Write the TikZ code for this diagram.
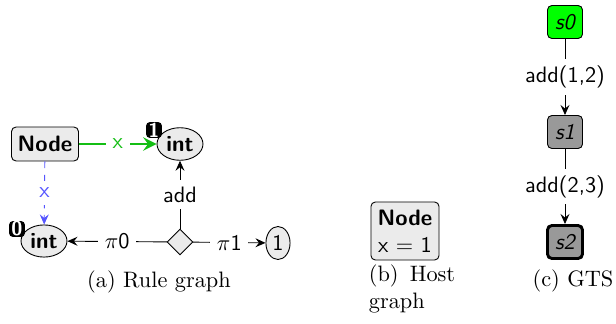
\documentclass[tikz,border=0pt]{standalone}
\usepackage{amsmath}
\usepackage{tikz}
\usetikzlibrary{shapes.geometric,arrows.meta}

\definecolor{edgegreen}{RGB}{20,190,20}
\definecolor{edgeblue}{RGB}{85,85,255}
\definecolor{boxgray}{RGB}{235,235,235}
\definecolor{stategray}{RGB}{153,153,153}
\definecolor{stategreen}{RGB}{0,255,0}

\tikzset{
  typebox/.style={draw, rounded corners=2pt, fill=boxgray, font=\sffamily\bfseries, inner sep=2pt},
  valnode/.style={draw, ellipse, fill=boxgray, font=\sffamily, inner sep=0pt},
  badge/.style={fill=black, text=white, rounded corners=1.5pt, font=\sffamily\bfseries\small, inner sep=0pt, minimum size=7pt},
  opnode/.style={draw, diamond, fill=boxgray, inner sep=0pt, minimum size=11.5pt},
  state/.style={draw, rounded corners=2pt, font=\sffamily\itshape, inner sep=0pt, minimum width=15.7pt, minimum height=14.8pt},
  elabel/.style={fill=white, font=\sffamily, inner sep=3pt},
  caption/.style={font=\rmfamily},
  tip/.style={-{Stealth[length=4.5pt, width=4pt, inset=1.6pt]}}
}

\begin{document}
\begin{tikzpicture}[x=0.448pt,y=-0.448pt]

\useasboundingbox (0,0) rectangle (616,324);

\node[typebox, minimum width=30pt, minimum height=15.2pt] (rnode) at (45,144) {Node};
\node[valnode, font=\sffamily\bfseries, minimum width=20.6pt, minimum height=14.6pt] (int1) at (180,144) {int};
\node[valnode, font=\sffamily\bfseries, minimum width=20.6pt, minimum height=14.4pt] (int0) at (44,241) {int};
\node[opnode] (add) at (180,242) {};
\node[valnode, minimum width=10.8pt, minimum height=14.8pt] (one) at (278,243) {1};

\node[badge] (tag1) at (154,130) {1};
\node[badge] (tag0) at (17,229) {0};

\draw[edgegreen, line width=1.3pt, -{Stealth[length=6pt, width=6pt, inset=2.2pt]}] (rnode) -- node[elabel, text=edgegreen]{x} (int1);
\draw[tip, edgeblue, dashed] (rnode) -- node[elabel, text=edgeblue]{x} (int0);
\draw[tip] (add) -- node[elabel]{$\pi$0} (int0);
\draw[tip] (add) -- node[elabel]{$\pi$1} (one);
\draw[tip] (add) -- node[elabel]{add} (int1);

\node[caption] (capa) at (159,282) {(a) Rule graph};



\node[typebox, align=center, minimum width=30.5pt, minimum height=26pt] (hnode) at (405,231) {Node\\\mdseries x = 1};

\node[caption, align=left] (capb) at (412,289) {(b)\hspace{5pt}Host\\graph};



\node[state, fill=stategreen] (s0) at (565,22) {s0};
\node[state, fill=stategray] (s1) at (565,132) {s1};
\node[state, fill=stategray, line width=1.3pt] (s2) at (565,242) {s2};

\draw[tip] (s0) -- node[elabel]{add(1,2)} (s1);
\draw[tip] (s1) -- node[elabel]{add(2,3)} (s2);

\node[caption] (capc) at (573,281) {(c) GTS};

\end{tikzpicture}
\end{document}
